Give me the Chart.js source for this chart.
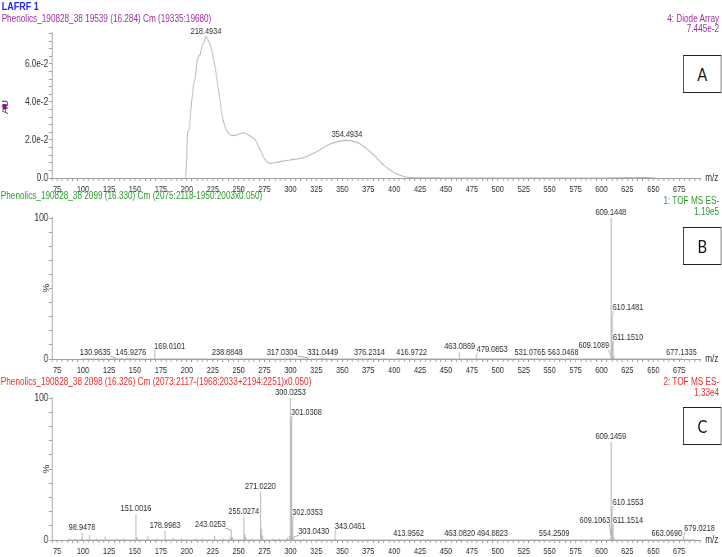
<!DOCTYPE html>
<html>
<head>
<meta charset="utf-8">
<script src="https://cdn.jsdelivr.net/npm/chart.js@4.4.0/dist/chart.umd.min.js"></script>
<style>
  body { margin: 0; background: #fff; overflow: hidden; }
  /* the whole plot is drawn wide and squeezed, like the condensed MassLynx export */
  #wrap { position: relative; width: 880px; height: 557px; overflow: hidden;
          transform: scaleX(0.82); transform-origin: 0 0;
          font-family: 'Liberation Sans', Arial, sans-serif; }
  canvas { position: absolute; left: 0; }
  .t { position: absolute; white-space: nowrap; font-size: 10px; line-height: 10px; }
  .r { right: 3px; text-align: right; }
  .box { position: absolute; left: 833px; width: 45px; height: 36px; border: 1px solid #222; background: #fff;
         font: 18px Lato, 'Open Sans', sans-serif; text-align: center; line-height: 36px; color: #111; }
  .rot { position: absolute; transform: rotate(-90deg); transform-origin: center; font-size: 10px; line-height: 10px; color: #333; }
  .mz { position: absolute; left: 860px; font-size: 10px; line-height: 10px; color: #333; }
</style>
</head>
<body>
<div id="wrap">
  <canvas id="uv" width="880" height="200" style="top:0"></canvas>
  <canvas id="msB" width="880" height="181" style="top:200px"></canvas>
  <canvas id="msC" width="880" height="176" style="top:381px"></canvas>

  <div class="t" style="left:2px;top:1px;font-size:11px;line-height:11px;font-weight:bold;color:#2727ee">LAFRF 1</div>
  <div class="t" style="left:2px;top:14px;color:#a22ea2">Phenolics_190828_38 19539 (16.284) Cm (19335:19680)</div>
  <div class="t r" style="top:14px;color:#a22ea2">4: Diode Array</div>
  <div class="t r" style="top:24px;color:#a22ea2">7.445e-2</div>

  <div class="t" style="left:1px;top:191px;color:#2e9a2e">Phenolics_190828_38 2099 (16.330) Cm (2075:2118-1950:2003x0.050)</div>
  <div class="t r" style="top:196px;color:#2e9a2e">1: TOF MS ES-</div>
  <div class="t r" style="top:207px;color:#2e9a2e">1.19e5</div>

  <div class="t" style="left:1px;top:377px;color:#f22a2a">Phenolics_190828_38 2098 (16.326) Cm (2073:2117-(1968:2033+2194:2251)x0.050)</div>
  <div class="t r" style="top:377px;color:#f22a2a">2: TOF MS ES-</div>
  <div class="t r" style="top:388px;color:#f22a2a">1.33e4</div>

  <div class="rot" style="left:0px;top:102px">AU</div>
  <div style="position:absolute;left:3px;top:104px;width:5px;height:5px;background:#8a1a8a"></div>
  <div class="rot" style="left:52px;top:283px">%</div>
  <div class="rot" style="left:52px;top:464px">%</div>

  <div class="mz" style="top:173px">m/z</div>
  <div class="mz" style="top:354px">m/z</div>
  <div class="mz" style="top:535px">m/z</div>

  <div class="box" style="top:55px">A</div>
  <div class="box" style="top:227px">B</div>
  <div class="box" style="top:407px">C</div>
</div>

<script>
const FONT = "'Liberation Sans', Arial, sans-serif";
const SX = 0.82; // horizontal squeeze of #wrap
Chart.defaults.font.family = FONT;
Chart.defaults.animation = false;

// shared m/z axis
const mzTickLabels = [75, 100, 125, 150, 175, 200, 225, 250, 275, 300, 325, 350, 375, 400,
                      425, 450, 475, 500, 525, 550, 575, 600, 625, 650, 675];

// panel A - diode array UV trace
const uvWavelength = [199, 200, 200.7, 202.6, 204.3, 206.5, 208, 209.8, 211.3, 213, 214.6, 216.2, 218.4934,
  219.6, 222.6, 225.2, 229, 232.2, 235.4, 240.2, 245, 249.9, 254.7, 259.5, 266, 270.8, 275.6, 280.5,
  290, 299.7, 312.6, 325.5, 338.3, 354.4934, 367.3, 378.6, 389.8, 401, 412.3, 425, 500, 600, 626, 632,
  638, 645, 652];
const uvAbsorbance = [0, 0.011, 0.024, 0.026, 0.038, 0.049, 0.052, 0.061, 0.064, 0.065, 0.070, 0.071, 0.07445,
  0.0735, 0.070, 0.0647, 0.0524, 0.040, 0.0296, 0.0235, 0.0223, 0.023, 0.0238, 0.0226, 0.020, 0.0147, 0.0095, 0.0077,
  0.0086, 0.0095, 0.0107, 0.0139, 0.0179, 0.0198, 0.0179, 0.013, 0.0068, 0.0025, 0.0004, 0.0001, 0, 0, 0.0003, 0.0001,
  0.0003, 0.0002, 0];
const uvPeakLabels = [218.4934, 354.4934];
const uvTickValues = [0, 0.02, 0.04, 0.06];
const uvTickText = ['0.0', '2.0e-2', '4.0e-2', '6.0e-2'];

// panel B - TOF MS ES- 1 (% intensity)
const msB_mz = [98.95, 112.98, 119.04, 130.9635, 145.9276, 160.84, 169.0101, 183.01, 205.0, 238.8848, 255.03,
  271.02, 300.03, 317.0304, 331.0449, 376.2314, 416.9722, 433.0, 463.0869, 479.0853, 501.0, 531.0765,
  563.0468, 591.0, 608.5, 609.1089, 609.1448, 609.45, 610.1481, 610.5, 611.1510, 612.15, 631.1, 655.0, 677.1335];
const msB_int = [0.4, 0.3, 0.3, 0.8, 0.7, 0.3, 0.9, 0.3, 0.3, 0.6, 0.4,
  0.5, 0.8, 0.8, 0.7, 0.5, 0.6, 0.4, 5, 1.0, 0.4, 0.6,
  0.6, 0.3, 1.0, 2.5, 100, 4, 30, 3, 9, 2, 0.3, 0.3, 0.8];
const msB_labels = [130.9635, 145.9276, 169.0101, 238.8848, 317.0304, 331.0449, 376.2314, 416.9722,
  463.0869, 479.0853, 531.0765, 563.0468, 609.1089, 609.1448, 610.1481, 611.1510, 677.1335];

// panel C - TOF MS ES- 2 (% intensity)
const msC_mz = [86.0, 92.5, 98.9478, 106.2, 112.9, 121.3, 133.0, 138.5, 151.0016, 152.0, 162.5, 171.0,
  178.9983, 187.1, 195.0, 209.0, 215.0, 226.8, 235.0, 241.9, 243.0253, 244.0, 255.0274, 256.0, 257.0, 263.0,
  271.0220, 272.03, 273.0, 283.0, 289.0, 297.0, 299.0, 300.0253, 301.0308, 302.0353, 303.0430, 313.0, 327.0,
  343.0461, 357.0, 375.0, 391.0, 413.9562, 433.0, 447.0, 463.0820, 479.0, 494.8823, 515.0, 535.0, 554.2509,
  575.0, 591.0, 608.5, 609.1063, 609.1459, 609.5, 610.1553, 611.1514, 612.1, 631.0, 647.0, 663.0690,
  679.0218, 689.0];
const msC_int = [1, 1, 5, 3.5, 1, 2.5, 1, 1, 18, 2, 3, 1,
  6.3, 1.5, 1, 1, 1.2, 3, 1, 2, 7, 2, 16.5, 4, 2, 1,
  34, 8, 3, 1, 1, 1.5, 3, 100, 83, 12, 2, 1, 0.8,
  1.5, 0.6, 0.6, 0.6, 0.6, 0.5, 0.5, 0.8, 0.5, 0.7, 0.5, 0.5, 0.7,
  0.5, 0.5, 1, 3, 69, 4, 20, 6, 2, 0.5, 0.5, 0.8,
  1, 0.5];
const msC_labels = [98.9478, 151.0016, 178.9983, 243.0253, 255.0274, 271.0220, 300.0253, 301.0308,
  302.0353, 303.0430, 343.0461, 413.9562, 463.0820, 494.8823, 554.2509, 609.1063, 609.1459, 610.1553,
  611.1514, 663.0690, 679.0218];

// label placement tweaks (screen px), like MassLynx moves labels to stop overlaps
const uvLabelShift = {};
const msB_labelShift = {
  '130.9635': [-20, 0], '169.0101': [15, -6], '317.0304': [-26, 0], '479.0853': [16, -3],
  '609.1089': [-17, -4], '610.1481': [16, -4], '611.1510': [15, -3]
};
const msC_labelShift = {
  '243.0253': [-21, 0], '301.0308': [15, -4], '302.0353': [15, -5], '303.0430': [20, 0],
  '343.0461': [15, -6], '609.1063': [-16, -10], '610.1553': [16, -4], '611.1514': [15, -5],
  '679.0218': [16, -5]
};

const AXIS = '#a0a0a0';
const TXT = '#2b2b2b';
const TRACE = '#b8b8b8';
const LEFT = 52 / SX;           // y axis position
const RIGHT_PAD = 880 - 701 / SX;

function mzAxis(height) {
  return {
    type: 'linear', min: 70, max: 696,
    afterBuildTicks: s => {
      s.ticks = [];
      for (let v = 70; v <= 695; v += 5) s.ticks.push({ value: v });
    },
    ticks: {
      autoSkip: false, maxRotation: 0, minRotation: 0, padding: 3, color: TXT, font: { size: 9 },
      callback: v => mzTickLabels.includes(v) ? String(v) : ''
    },
    grid: { drawOnChartArea: false, drawTicks: true, tickLength: 3, color: AXIS, lineWidth: 1.2 },
    border: { color: AXIS },
    afterFit: s => { s.height = height; }
  };
}

function yAxis(max, step, labelFor) {
  return {
    type: 'linear', min: 0, max: max,
    afterBuildTicks: s => {
      s.ticks = [];
      for (let k = 0; k * step <= max + 1e-9; k++) s.ticks.push({ value: k * step });
    },
    ticks: { autoSkip: false, padding: 1, color: TXT, font: { size: 10 }, callback: labelFor },
    grid: { drawOnChartArea: false, drawTicks: true, tickLength: 3 / SX, color: AXIS },
    border: { color: AXIS, width: 1.2 },
    afterFit: s => { s.width = LEFT; }
  };
}

function sticks(mz, inten) {
  const idx = mz.map((m, i) => i).sort((a, b) => mz[a] - mz[b]);
  const pts = [];
  idx.forEach(i => {
    pts.push({ x: mz[i], y: 0 }, { x: mz[i], y: inten[i] }, { x: mz[i], y: 0 });
  });
  return pts;
}

function peakLabels(xs, ys, labelled, shift) {
  return {
    id: 'peakLabels',
    afterDatasetsDraw(chart) {
      const { ctx } = chart;
      const sx = chart.scales.x, sy = chart.scales.y;
      ctx.save();
      ctx.font = '9px ' + FONT;
      ctx.fillStyle = TXT;
      ctx.strokeStyle = '#a8a8a8';
      ctx.lineWidth = 1;
      ctx.textAlign = 'center';
      ctx.textBaseline = 'bottom';
      labelled.forEach(m => {
        const i = xs.indexOf(m);
        const txt = m.toFixed(4);
        const px = sx.getPixelForValue(m);
        const py = sy.getPixelForValue(ys[i]);
        const s = shift[txt] || [0, 0];
        const lx = px + s[0] / SX;
        const ly = Math.min(py - 1, sy.bottom - 1) + s[1];
        ctx.fillText(txt, lx, ly);
        if (s[0] || s[1]) {
          const w = ctx.measureText(txt).width;
          const ax = s[0] > 0 ? lx - w / 2 + 1 : (s[0] < 0 ? lx + w / 2 - 1 : px);
          ctx.beginPath();
          ctx.moveTo(ax, ly - 1);
          ctx.lineTo(px, py);
          ctx.stroke();
        }
      });
      ctx.restore();
    }
  };
}

function nearIn(v, list, tol) {
  return list.findIndex(t => Math.abs(t - v) < tol);
}

// A
new Chart(document.getElementById('uv'), {
  type: 'line',
  data: {
    datasets: [{
      data: uvWavelength.map((w, i) => ({ x: w, y: uvAbsorbance[i] })),
      borderColor: TRACE, borderWidth: 1.1, pointRadius: 0, tension: 0.25, fill: false
    }]
  },
  options: {
    responsive: false, devicePixelRatio: 1,
    layout: { padding: { top: 33, right: RIGHT_PAD, left: 0, bottom: 0 } },
    plugins: { legend: { display: false }, tooltip: { enabled: false } },
    scales: {
      x: mzAxis(22),
      y: yAxis(0.0763, 0.004, v => {
        const k = nearIn(v, uvTickValues, 1e-4);
        return k >= 0 ? uvTickText[k] : '';
      })
    }
  },
  plugins: [peakLabels(uvWavelength, uvAbsorbance, uvPeakLabels, uvLabelShift)]
});

function msChart(id, mz, inten, labelled, shift, padTop, axisH) {
  return new Chart(document.getElementById(id), {
    type: 'line',
    data: {
      datasets: [{
        data: sticks(mz, inten),
        borderColor: TRACE, borderWidth: 1.25, pointRadius: 0, tension: 0, fill: false
      }]
    },
    options: {
      responsive: false, devicePixelRatio: 1,
      layout: { padding: { top: padTop, right: RIGHT_PAD, left: 0, bottom: 0 } },
      plugins: { legend: { display: false }, tooltip: { enabled: false } },
      scales: {
        x: mzAxis(axisH),
        y: yAxis(100, 10, v => (v === 0 || v === 100) ? String(v) : '')
      }
    },
    plugins: [peakLabels(mz, inten, labelled, shift)]
  });
}

msChart('msB', msB_mz, msB_int, msB_labels, msB_labelShift, 18, 22);
msChart('msC', msC_mz, msC_int, msC_labels, msC_labelShift, 17, 17);
</script>
</body>
</html>
